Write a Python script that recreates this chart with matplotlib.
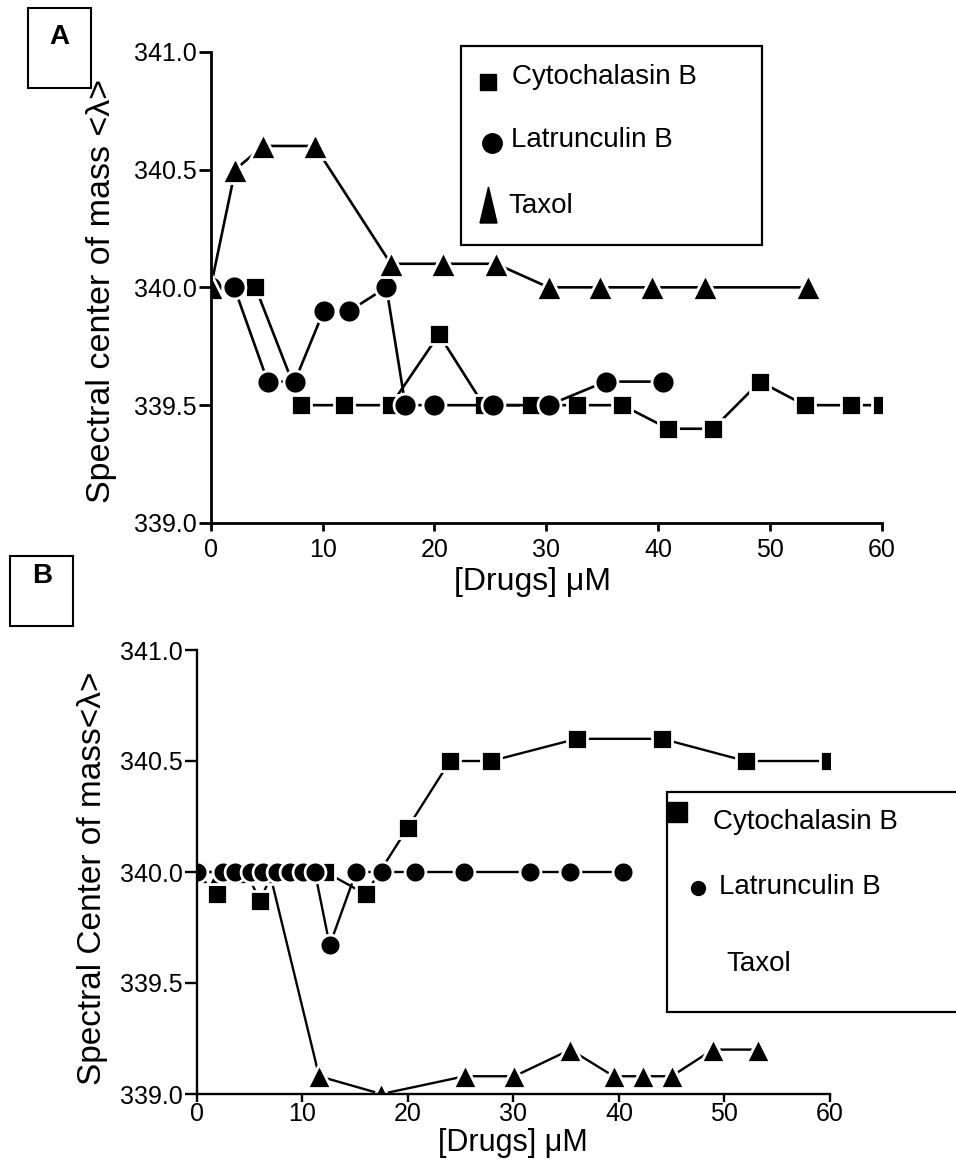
import matplotlib.pyplot as plt
from matplotlib.patches import Rectangle, Polygon
from matplotlib.ticker import FormatStrFormatter

plt.rcParams['font.family'] = ['Liberation Sans', 'DejaVu Sans']

# panel A
cyto_a_x = [0, 4.0, 8.1, 11.9, 16.1, 20.4, 24.4, 28.6, 32.7, 36.8, 40.9, 44.9, 49.1, 53.1, 57.2, 60]
cyto_a_y = [340.0, 340.0, 339.5, 339.5, 339.5, 339.8, 339.5, 339.5, 339.5, 339.5, 339.4, 339.4, 339.6, 339.5, 339.5, 339.5]
latr_a_x = [0, 2.1, 5.1, 7.5, 10.1, 12.4, 15.7, 17.4, 20.0, 25.2, 30.2, 35.3, 40.4]
latr_a_y = [340.0, 340.0, 339.6, 339.6, 339.9, 339.9, 340.0, 339.5, 339.5, 339.5, 339.5, 339.6, 339.6]
taxol_a_x = [0, 2.2, 4.7, 9.3, 16.1, 20.8, 25.5, 30.2, 34.8, 39.4, 44.2, 53.4]
taxol_a_y = [340.0, 340.5, 340.6, 340.6, 340.1, 340.1, 340.1, 340.0, 340.0, 340.0, 340.0, 340.0]

# panel B
cyto_b_x = [0, 1.9, 3.0, 4.7, 6.0, 7.2, 8.5, 10.0, 12.2, 16.0, 20.0, 24.0, 27.9, 36.0, 44.1, 52.0, 60]
cyto_b_y = [340.0, 339.9, 340.0, 340.0, 339.87, 340.0, 340.0, 340.0, 340.0, 339.9, 340.2, 340.5, 340.5, 340.6, 340.6, 340.5, 340.5]
latr_b_x = [0, 2.5, 3.6, 5.1, 6.3, 7.6, 8.8, 10.1, 11.2, 12.6, 15.1, 17.6, 20.7, 25.3, 31.6, 35.4, 40.4]
latr_b_y = [340.0, 340.0, 340.0, 340.0, 340.0, 340.0, 340.0, 340.0, 340.0, 339.67, 340.0, 340.0, 340.0, 340.0, 340.0, 340.0, 340.0]
taxol_b_x = [0, 2.2, 4.5, 6.9, 11.6, 17.5, 25.4, 30.1, 35.4, 39.5, 42.3, 45.0, 48.9, 53.2]
taxol_b_y = [340.0, 340.0, 340.0, 340.0, 339.08, 339.0, 339.08, 339.08, 339.2, 339.08, 339.08, 339.08, 339.2, 339.2]

x_ticks = [0, 10, 20, 30, 40, 50, 60]
y_ticks = [339.0, 339.5, 340.0, 340.5, 341.0]

W, H = 956, 1171
fig = plt.figure(figsize=(W / 100, H / 100), dpi=100)


def px_rect(left, top, right, bottom):
    return [left / W, 1 - bottom / H, (right - left) / W, (bottom - top) / H]


def style(ax, spine_w, xpad):
    for s in ["top", "right"]:
        ax.spines[s].set_visible(False)
    for s in ["left", "bottom"]:
        ax.spines[s].set_linewidth(spine_w)
    ax.set_xlim(0, 60)
    ax.set_ylim(339, 341)
    ax.set_xticks(x_ticks)
    ax.set_yticks(y_ticks)
    ax.yaxis.set_major_formatter(FormatStrFormatter("%.1f"))
    ax.tick_params(axis="y", direction="out", length=9, width=spine_w, labelsize=18, pad=1)
    ax.tick_params(axis="x", direction="out", length=6, width=spine_w, labelsize=18, pad=xpad)


def series(ax, x, y, marker, ms, lw):
    ax.plot(x, y, color="black", lw=lw, marker=marker, ms=ms,
            mfc="black", mec="white", mew=2)


ax_a = fig.add_axes(px_rect(210.7, 51.7, 882, 523))
style(ax_a, 2.0, 5)
series(ax_a, cyto_a_x, cyto_a_y, "s", 14.5, 1.9)
series(ax_a, latr_a_x, latr_a_y, "o", 16.5, 1.9)
series(ax_a, taxol_a_x, taxol_a_y, "^", 18.5, 1.9)

ax_b = fig.add_axes(px_rect(196.7, 650, 830, 1094))
style(ax_b, 1.7, 0)
series(ax_b, cyto_b_x, cyto_b_y, "s", 14, 1.7)
series(ax_b, taxol_b_x, taxol_b_y, "^", 17, 1.7)
series(ax_b, latr_b_x, latr_b_y, "o", 15, 1.7)

# axis titles
fig.text(102 / W, 1 - 291 / H, "Spectral center of mass <λ>", rotation=90,
         ha="center", va="center", fontsize=24.5)
fig.text(533 / W, 1 - 582 / H, "[Drugs] μM", ha="center", va="center", fontsize=23)
fig.text(93 / W, 1 - 878 / H, "Spectral Center of mass<λ>", rotation=90,
         ha="center", va="center", fontsize=24)
fig.text(513 / W, 1 - 1143 / H, "[Drugs] μM", ha="center", va="center", fontsize=22)

# overlay in pixel coordinates for panel boxes and legends
ov = fig.add_axes([0, 0, 1, 1])
ov.set_xlim(0, W)
ov.set_ylim(H, 0)
ov.axis("off")
ov.patch.set_alpha(0)

ov.add_patch(Rectangle((27.7, 8.3), 63.3, 80, fill=False, lw=1.5, ec="black"))
ov.text(59.5, 37, "A", ha="center", va="center", fontsize=20, fontweight="bold")
ov.add_patch(Rectangle((10, 556), 63.3, 70, fill=False, lw=1.5, ec="black"))
ov.text(42, 576, "B", ha="center", va="center", fontsize=20, fontweight="bold")

# legend A
ov.add_patch(Rectangle((461, 46), 301, 199, fc="white", ec="black", lw=1.6))
ov.plot([488], [82], marker="s", ms=12, color="black", ls="none")
ov.text(512, 77, "Cytochalasin B", ha="left", va="center", fontsize=20)
ov.plot([492], [143], marker="o", ms=14, color="black", ls="none")
ov.text(511, 140, "Latrunculin B", ha="left", va="center", fontsize=20)
ov.add_patch(Polygon([(480, 223), (497, 223), (488.5, 187)], closed=True, fc="black", ec="black"))
ov.text(508, 206, "Taxol", ha="left", va="center", fontsize=20)

# legend B
ov.add_patch(Rectangle((667, 792), 320, 220, fc="white", ec="black", lw=1.6, clip_on=False))
ov.plot([677], [812], marker="s", ms=14, color="black", ls="none")
ov.text(713, 822, "Cytochalasin B", ha="left", va="center", fontsize=20)
ov.plot([698], [888], marker="o", ms=10, color="black", ls="none")
ov.text(719, 887, "Latrunculin B", ha="left", va="center", fontsize=20)
ov.text(726, 964, "Taxol", ha="left", va="center", fontsize=20)

fig.savefig("out.png", dpi=100)
